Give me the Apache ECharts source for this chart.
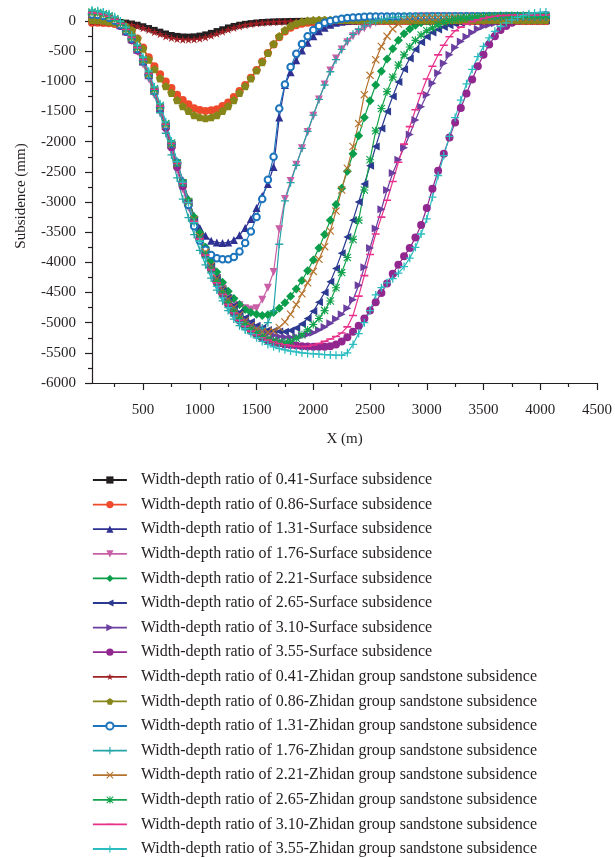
<!DOCTYPE html>
<html>
<head>
<meta charset="utf-8">
<script src="https://cdn.jsdelivr.net/npm/echarts@6/dist/echarts.min.js"></script>
<style>
  html, body { margin: 0; padding: 0; background: #ffffff; }
  #chart { width: 615px; height: 858px; }
</style>
</head>
<body>
<div id="chart"></div>
<script>
// Horizontal positions of the sampled profile points (m)
const X = [50,100,150,200,250,300,350,400,450,500,
  550,600,650,700,750,800,850,900,950,1000,
  1050,1100,1150,1200,1250,1300,1350,1400,1450,1500,
  1550,1600,1650,1700,1750,1800,1850,1900,1950,2000,
  2050,2100,2150,2200,2250,2300,2350,2400,2450,2500,
  2550,2600,2650,2700,2750,2800,2850,2900,2950,3000,
  3050,3100,3150,3200,3250,3300,3350,3400,3450,3500,
  3550,3600,3650,3700,3750,3800,3850,3900,3950,4000,
  4050];

// Surface subsidence (mm) for each width-depth ratio
const surf041 = [-10,-10,-10,-12,-15,-20,-30,-45,-65,-90,
  -120,-150,-180,-210,-235,-250,-260,-262,-258,-245,
  -225,-200,-170,-140,-110,-85,-65,-50,-38,-28,
  -20,-15,-10,-7,-5,-3,-2,-1,0,0,
  0,0,0,0,0,0,0,0,0,0,
  0,0,0,0,0,0,0,0,0,0,
  0,0,0,0,0,0,0,0,0,0,
  0,0,0,0,0,0,0,0,0,0,
  0];
const surf086 = [-30,-30,-32,-38,-50,-70,-110,-170,-290,-440,
  -600,-750,-880,-1000,-1110,-1220,-1310,-1380,-1445,-1475,
  -1490,-1480,-1460,-1410,-1350,-1260,-1160,-1060,-940,-810,
  -670,-530,-390,-270,-175,-110,-70,-45,-30,-20,
  -15,-10,-8,-5,-3,-2,-1,0,0,0,
  0,0,0,0,0,0,0,0,0,0,
  0,0,0,0,0,0,0,0,0,0,
  0,0,0,0,0,0,0,0,0,0,
  0];
const surf131 = [100,90,75,45,0,-70,-170,-300,-470,-670,
  -900,-1160,-1440,-1730,-2030,-2330,-2640,-2950,-3230,-3430,
  -3560,-3640,-3670,-3680,-3670,-3630,-3550,-3430,-3280,-3100,
  -2900,-2700,-2420,-1600,-1060,-850,-650,-490,-360,-250,
  -170,-110,-60,-30,-10,0,10,15,20,20,
  20,20,20,20,20,20,20,20,20,20,
  20,20,20,20,20,20,20,20,20,20,
  20,20,20,20,20,20,20,20,20,20,
  20];
const surf176 = [120,110,90,55,0,-80,-190,-330,-510,-720,
  -960,-1230,-1520,-1830,-2150,-2470,-2790,-3090,-3370,-3630,
  -3870,-4080,-4260,-4410,-4540,-4640,-4710,-4760,-4780,-4760,
  -4620,-4420,-4160,-3450,-2950,-2650,-2380,-2110,-1840,-1570,
  -1300,-1050,-820,-620,-470,-350,-250,-180,-120,-70,
  -30,0,20,40,50,60,65,70,75,75,
  75,75,75,75,75,75,75,75,75,75,
  75,75,75,75,75,75,75,75,75,75,
  75];
const surf221 = [120,110,95,65,15,-55,-155,-285,-455,-655,
  -885,-1145,-1425,-1725,-2045,-2360,-2670,-2970,-3250,-3510,
  -3750,-3970,-4160,-4330,-4480,-4600,-4700,-4780,-4830,-4860,
  -4880,-4870,-4830,-4760,-4670,-4560,-4440,-4300,-4140,-3960,
  -3760,-3540,-3300,-3040,-2770,-2490,-2200,-1900,-1600,-1320,
  -1060,-830,-630,-460,-320,-210,-130,-70,-30,0,
  20,35,45,55,60,65,70,75,80,80,
  85,85,90,90,90,90,90,90,90,90,
  90];
const surf265 = [110,100,85,55,5,-65,-165,-295,-465,-665,
  -895,-1155,-1435,-1735,-2055,-2375,-2695,-3005,-3300,-3575,
  -3830,-4060,-4260,-4440,-4590,-4720,-4830,-4920,-4990,-5050,
  -5090,-5120,-5135,-5145,-5150,-5130,-5090,-5020,-4930,-4810,
  -4660,-4500,-4320,-4100,-3850,-3580,-3300,-3000,-2700,-2400,
  -2080,-1780,-1500,-1250,-1010,-800,-620,-470,-350,-260,
  -190,-140,-100,-70,-50,-30,-15,-5,0,5,
  10,10,10,10,10,10,10,10,10,10,
  10];
const surf310 = [100,95,80,50,0,-70,-170,-300,-470,-670,
  -900,-1160,-1440,-1740,-2060,-2380,-2700,-3010,-3310,-3590,
  -3850,-4080,-4290,-4470,-4630,-4760,-4870,-4960,-5030,-5090,
  -5140,-5180,-5210,-5230,-5240,-5245,-5235,-5220,-5195,-5165,
  -5120,-5070,-5010,-4940,-4860,-4760,-4620,-4380,-4080,-3760,
  -3440,-3120,-2800,-2520,-2300,-2100,-1880,-1640,-1420,-1220,
  -1030,-860,-700,-560,-440,-340,-260,-190,-130,-90,
  -60,-35,-15,0,10,20,25,30,30,30,
  30];
const surf355 = [90,85,70,40,-10,-80,-180,-320,-490,-670,
  -900,-1170,-1460,-1770,-2090,-2420,-2740,-3050,-3340,-3610,
  -3870,-4110,-4330,-4520,-4690,-4840,-4960,-5060,-5140,-5200,
  -5250,-5290,-5320,-5340,-5360,-5370,-5380,-5390,-5395,-5400,
  -5400,-5400,-5390,-5360,-5310,-5240,-5150,-5050,-4930,-4800,
  -4660,-4510,-4350,-4190,-4040,-3900,-3760,-3590,-3380,-3100,
  -2780,-2480,-2200,-1930,-1680,-1440,-1200,-970,-750,-560,
  -390,-250,-150,-80,-30,10,40,60,80,90,
  100];

// Zhidan group sandstone subsidence (mm) for each width-depth ratio
const zhi041 = [-20,-20,-22,-25,-30,-38,-50,-68,-90,-118,
  -150,-185,-220,-255,-283,-300,-310,-312,-308,-295,
  -272,-245,-212,-178,-145,-115,-90,-70,-55,-42,
  -32,-25,-20,-16,-13,-10,-8,-7,-6,-5,
  -5,-5,-5,-5,-5,-5,-5,-5,-5,-5,
  -5,-5,-5,-5,-5,-5,-5,-5,-5,-5,
  -5,-5,-5,-5,-5,-5,-5,-5,-5,-5,
  -5,-5,-5,-5,-5,-5,-5,-5,-5,-5,
  -5];
const zhi086 = [20,15,5,-10,-25,-50,-90,-150,-290,-460,
  -640,-800,-950,-1080,-1190,-1310,-1410,-1490,-1560,-1595,
  -1610,-1595,-1560,-1490,-1410,-1310,-1190,-1080,-950,-820,
  -680,-530,-380,-250,-150,-80,-40,-10,5,15,
  20,20,20,20,20,20,20,20,20,20,
  20,20,20,20,20,20,20,20,20,20,
  20,20,20,20,20,20,20,20,20,20,
  20,20,20,20,20,20,20,20,20,20,
  20];
const zhi131 = [110,100,85,55,5,-65,-165,-295,-465,-665,
  -895,-1155,-1435,-1730,-2040,-2350,-2680,-3050,-3400,-3640,
  -3790,-3880,-3930,-3950,-3950,-3910,-3820,-3680,-3490,-3250,
  -2950,-2630,-2250,-1450,-1050,-760,-540,-380,-250,-150,
  -80,-30,0,20,40,50,60,65,70,75,
  75,75,75,75,75,75,75,75,75,75,
  80,80,80,80,80,80,80,80,80,80,
  80,80,80,80,80,80,80,80,80,80,
  80];
const zhi176 = [170,160,140,105,50,-30,-140,-280,-460,-680,
  -930,-1210,-1520,-1860,-2220,-2600,-2950,-3260,-3540,-3800,
  -4040,-4260,-4460,-4640,-4800,-4940,-5050,-5120,-5150,-5140,
  -5090,-5000,-4800,-3700,-2980,-2680,-2390,-2110,-1830,-1560,
  -1300,-1060,-840,-640,-470,-330,-220,-140,-80,-30,
  0,25,45,60,70,75,80,80,80,80,
  80,80,80,80,80,80,80,80,80,80,
  80,80,80,80,80,80,80,80,80,80,
  80];
const zhi221 = [130,120,100,70,20,-50,-150,-280,-450,-650,
  -880,-1140,-1420,-1720,-2040,-2360,-2680,-2990,-3290,-3570,
  -3830,-4060,-4270,-4450,-4610,-4750,-4870,-4970,-5050,-5110,
  -5150,-5160,-5140,-5080,-4990,-4860,-4700,-4520,-4340,-4150,
  -3950,-3740,-3480,-3150,-2800,-2440,-2080,-1700,-1220,-900,
  -640,-420,-250,-130,-50,0,30,45,55,60,
  60,60,60,60,60,60,60,60,60,60,
  60,60,60,60,60,60,60,60,60,60,
  60];
const zhi265 = [150,140,120,90,40,-30,-130,-260,-430,-630,
  -860,-1120,-1400,-1700,-2020,-2350,-2680,-3000,-3310,-3600,
  -3870,-4110,-4320,-4510,-4670,-4810,-4930,-5030,-5110,-5180,
  -5230,-5270,-5300,-5320,-5330,-5310,-5260,-5200,-5120,-5030,
  -4930,-4800,-4640,-4420,-4170,-3920,-3620,-3300,-2800,-2300,
  -1820,-1450,-1170,-930,-730,-560,-430,-320,-230,-160,
  -110,-60,-20,10,30,45,55,65,70,75,
  80,80,85,85,90,90,90,90,90,90,
  90];
const zhi310 = [140,130,110,80,30,-40,-140,-270,-440,-640,
  -870,-1130,-1410,-1710,-2030,-2360,-2690,-3010,-3320,-3610,
  -3880,-4120,-4340,-4530,-4700,-4840,-4960,-5060,-5140,-5200,
  -5250,-5290,-5320,-5345,-5365,-5380,-5390,-5395,-5390,-5370,
  -5345,-5310,-5270,-5230,-5170,-5070,-4880,-4560,-4220,-3870,
  -3530,-3250,-2970,-2660,-2340,-2040,-1750,-1470,-1200,-960,
  -750,-560,-400,-260,-160,-100,-50,-10,20,45,
  65,80,90,95,100,100,100,100,100,100,
  100];
const zhi355 = [180,170,150,120,70,0,-100,-230,-400,-600,
  -830,-1090,-1370,-1670,-1990,-2330,-2670,-3010,-3340,-3650,
  -3930,-4180,-4400,-4590,-4750,-4890,-5000,-5100,-5180,-5250,
  -5310,-5360,-5400,-5430,-5450,-5470,-5485,-5500,-5510,-5515,
  -5520,-5530,-5535,-5540,-5540,-5500,-5360,-5180,-5000,-4800,
  -4540,-4420,-4340,-4270,-4180,-4070,-3930,-3750,-3530,-3280,
  -2920,-2560,-2230,-1910,-1600,-1310,-1040,-800,-590,-420,
  -280,-170,-90,-30,20,60,90,120,135,145,
  150];

// Axis tick positions
const X_MAJOR = [500,1000,1500,2000,2500,3000,3500,4000,4500];
const X_MINOR = [250,750,1250,1750,2250,2750,3250,3750,4250];
const Y_MAJOR = [0,-500,-1000,-1500,-2000,-2500,-3000,-3500,-4000,-4500,-5000,-5500,-6000];
const Y_MINOR = [-250,-750,-1250,-1750,-2250,-2750,-3250,-3750,-4250,-4750,-5250,-5750];

const FONT = 'Liberation Serif';
const INK = '#231f20';

// Marker shapes; the two hair-thin corner marks keep every outline on a square box
const BOX = ' M0,0 L0.2,0 L0,0.2 Z M100,100 L99.8,100 L100,99.8 Z';
const STAR = 'path://M50,2 L61,37 L98,37 L68,59 L79,94 L50,72 L21,94 L32,59 L2,37 L39,37 Z' + BOX;
const PENTAGON = 'path://M50,4 L98,39 L79,95 L21,95 L2,39 Z' + BOX;
const PLUS = 'path://M42,0 H58 V42 H100 V58 H58 V100 H42 V58 H0 V42 H42 Z' + BOX;
const CROSS = 'path://M0,10 L10,0 L100,90 L90,100 Z M90,0 L100,10 L10,100 L0,90 Z' + BOX;
const ASTER = 'path://M0,10 L10,0 L100,90 L90,100 Z M90,0 L100,10 L10,100 L0,90 Z M43,0 H57 V100 H43 Z M0,43 H100 V57 H0 Z' + BOX;
const DASH = 'path://M0,40 H100 V60 H0 Z' + BOX;

const noComma = v => String(v);

function line(name, ys, color, symbol, extra) {
  return Object.assign({
    name: name,
    type: 'line',
    data: X.map((x, i) => [x, ys[i]]),
    symbol: symbol,
    symbolSize: 8,
    showAllSymbol: true,
    lineStyle: { color: color, width: 1.2 },
    itemStyle: { color: color },
    emphasis: { disabled: true }
  }, extra || {});
}

const series = [
  line('Width-depth ratio of 0.41-Surface subsidence', surf041, '#231f20', 'rect', { symbolSize: 6.5 }),
  line('Width-depth ratio of 0.86-Surface subsidence', surf086, '#ef4a2b', 'circle'),
  line('Width-depth ratio of 1.31-Surface subsidence', surf131, '#2e3192', 'triangle'),
  line('Width-depth ratio of 1.76-Surface subsidence', surf176, '#c95fa6', 'triangle', { symbolRotate: 180 }),
  line('Width-depth ratio of 2.21-Surface subsidence', surf221, '#0a9e4b', 'diamond', { symbolSize: 9 }),
  line('Width-depth ratio of 2.65-Surface subsidence', surf265, '#2b3990', 'triangle', { symbolRotate: 90 }),
  line('Width-depth ratio of 3.10-Surface subsidence', surf310, '#6b3fa0', 'triangle', { symbolRotate: -90 }),
  line('Width-depth ratio of 3.55-Surface subsidence', surf355, '#92278f', 'circle'),
  line('Width-depth ratio of 0.41-Zhidan group sandstone subsidence', zhi041, '#9e1f24', STAR, { symbolSize: 9 }),
  line('Width-depth ratio of 0.86-Zhidan group sandstone subsidence', zhi086, '#86861a', PENTAGON, { symbolSize: 9 }),
  line('Width-depth ratio of 1.31-Zhidan group sandstone subsidence', zhi131, '#1c75bc', 'emptyCircle', { symbolSize: 6.5, itemStyle: { color: '#1c75bc', borderWidth: 1.8 } }),
  line('Width-depth ratio of 1.76-Zhidan group sandstone subsidence', zhi176, '#25a5a8', PLUS),
  line('Width-depth ratio of 2.21-Zhidan group sandstone subsidence', zhi221, '#b5722c', CROSS),
  line('Width-depth ratio of 2.65-Zhidan group sandstone subsidence', zhi265, '#12a34c', ASTER),
  line('Width-depth ratio of 3.10-Zhidan group sandstone subsidence', zhi310, '#e8308a', DASH),
  line('Width-depth ratio of 3.55-Zhidan group sandstone subsidence', zhi355, '#2bbcc0', PLUS)
];

const chart = echarts.init(document.getElementById('chart'), null, { renderer: 'canvas' });
chart.setOption({
  animation: false,
  backgroundColor: '#ffffff',
  textStyle: { fontFamily: FONT, color: INK },
  grid: { left: 92, top: 9, width: 509, height: 374, containLabel: false },
  xAxis: [{
    type: 'value', min: 50, max: 4500,
    name: 'X (m)', nameLocation: 'middle', nameGap: 49,
    nameTextStyle: { fontFamily: FONT, fontSize: 15, color: INK },
    axisLine: { onZero: false, lineStyle: { color: INK, width: 1.2 } },
    axisTick: { customValues: X_MAJOR, length: 7, lineStyle: { color: INK, width: 1.2 } },
    axisLabel: { customValues: X_MAJOR, margin: 20, fontFamily: FONT, fontSize: 15, color: INK, formatter: noComma },
    splitLine: { show: false }
  }, {
    type: 'value', min: 50, max: 4500, position: 'bottom',
    axisLine: { show: false, onZero: false },
    axisTick: { customValues: X_MINOR, length: 4, lineStyle: { color: INK, width: 1.2 } },
    axisLabel: { show: false },
    splitLine: { show: false }
  }],
  yAxis: [{
    type: 'value', min: -6000, max: 200, interval: 500,
    name: 'Subsidence (mm)', nameLocation: 'middle', nameGap: 63,
    nameTextStyle: { fontFamily: FONT, fontSize: 15, color: INK },
    axisLine: { show: true, onZero: false, lineStyle: { color: INK, width: 1.2 } },
    axisTick: { show: true, customValues: Y_MAJOR, length: 7, lineStyle: { color: INK, width: 1.2 } },
    axisLabel: { customValues: Y_MAJOR, margin: 16, fontFamily: FONT, fontSize: 15, color: INK, formatter: noComma },
    splitLine: { show: false }
  }, {
    type: 'value', min: -6000, max: 200, position: 'left',
    axisLine: { show: false, onZero: false },
    axisTick: { show: true, customValues: Y_MINOR, length: 4, lineStyle: { color: INK, width: 1.2 } },
    axisLabel: { show: false },
    splitLine: { show: false }
  }],
  legend: {
    orient: 'vertical',
    left: 92, top: 472, height: 420,
    padding: 0,
    itemWidth: 34, itemHeight: 9, itemGap: 8.6,
    textStyle: { fontFamily: FONT, fontSize: 16, color: INK, lineHeight: 15, padding: [0, 0, 0, 9] },
    lineStyle: { width: 1.8 },
    data: series.map(s => s.name)
  },
  series: series
});
</script>
</body>
</html>
